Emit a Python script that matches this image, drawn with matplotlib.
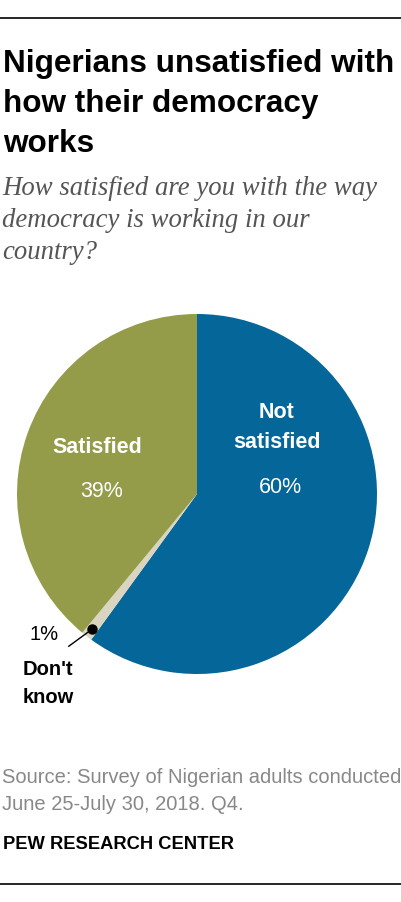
import matplotlib
matplotlib.use("Agg")
import matplotlib.pyplot as plt
from matplotlib.lines import Line2D
import numpy as np

# 数据
labels = ["Not satisfied", "Don't know", "Satisfied"]
values = [60, 1, 39]
colors = ["#046699", "#d9d5c0", "#949c4a"]

W, H = 402, 902


def fx(px):
    return px / W


def fy(py):
    return 1 - py / H


fig = plt.figure(figsize=(W / 100, H / 100), dpi=100)
fig.patch.set_facecolor("white")

sans = ["Liberation Sans", "DejaVu Sans"]
serif = ["Liberation Serif", "DejaVu Serif"]


def txt(x, y, s, **kw):
    kw.setdefault("va", "baseline")
    kw.setdefault("ha", "left")
    kw.setdefault("family", sans)
    fig.text(fx(x), fy(y), s, **kw)


# 顶部/底部横线
fig.add_artist(Line2D([0, 1], [fy(18), fy(18)], color="black", lw=1.2))
fig.add_artist(Line2D([0, 1], [fy(884), fy(884)], color="black", lw=1.2))

# 标题
for s, y in zip(["Nigerians unsatisfied with", "how their democracy", "works"], [72, 112, 152]):
    txt(3, y, s, fontsize=22.7, fontweight="bold")

# 副标题
for s, y in zip(["How satisfied are you with the way", "democracy is working in our", "country?"],
                [195, 227, 259]):
    txt(2, y, s, fontsize=19.3, style="italic", family=serif, color="#555555")

# 饼图
R = 180
cx, cy = 197, 494
ax = fig.add_axes([fx(cx - R), fy(cy + R), 2 * R / W, 2 * R / H])
ax.pie(values, colors=colors, startangle=90, counterclock=False,
       wedgeprops=dict(linewidth=0))
ax.set_xlim(-1, 1)
ax.set_ylim(-1, 1)
ax.set_aspect("equal")
ax.axis("off")

# 扇区标签
txt(277, 418, "Not", fontsize=15.5, fontweight="bold", color="white", ha="center")
txt(277, 448, "satisfied", fontsize=15.5, fontweight="bold", color="white", ha="center")
txt(280, 493, f"{values[0]}%", fontsize=15.5, color="white", ha="center")
txt(97, 453, labels[2], fontsize=15.5, fontweight="bold", color="white", ha="center")
txt(102, 497, f"{values[2]}%", fontsize=15.5, color="white", ha="center")

# Don't know 标注
ang = np.deg2rad(90 - 360 * (values[0] + values[1] / 2) / 100)
dx, dy = 0.95 * np.cos(ang), 0.95 * np.sin(ang)
ax.plot([dx], [dy], "o", color="black", markersize=6.5, clip_on=False)
ax.plot([dx, dx - 0.13], [dy, dy - 0.095], color="black", lw=1, clip_on=False)
txt(30, 640, f"{values[1]}%", fontsize=14.5)
txt(23, 675, "Don't", fontsize=14.5, fontweight="bold")
txt(23, 703, "know", fontsize=14.5, fontweight="bold")

# 来源
txt(2, 783, "Source: Survey of Nigerian adults conducted", fontsize=14.5, color="#888888")
txt(2, 810, "June 25-July 30, 2018. Q4.", fontsize=14.5, color="#888888")
txt(3, 849, "PEW RESEARCH CENTER", fontsize=13.2, fontweight="bold")

fig.savefig("out.png", dpi=100, facecolor="white")
